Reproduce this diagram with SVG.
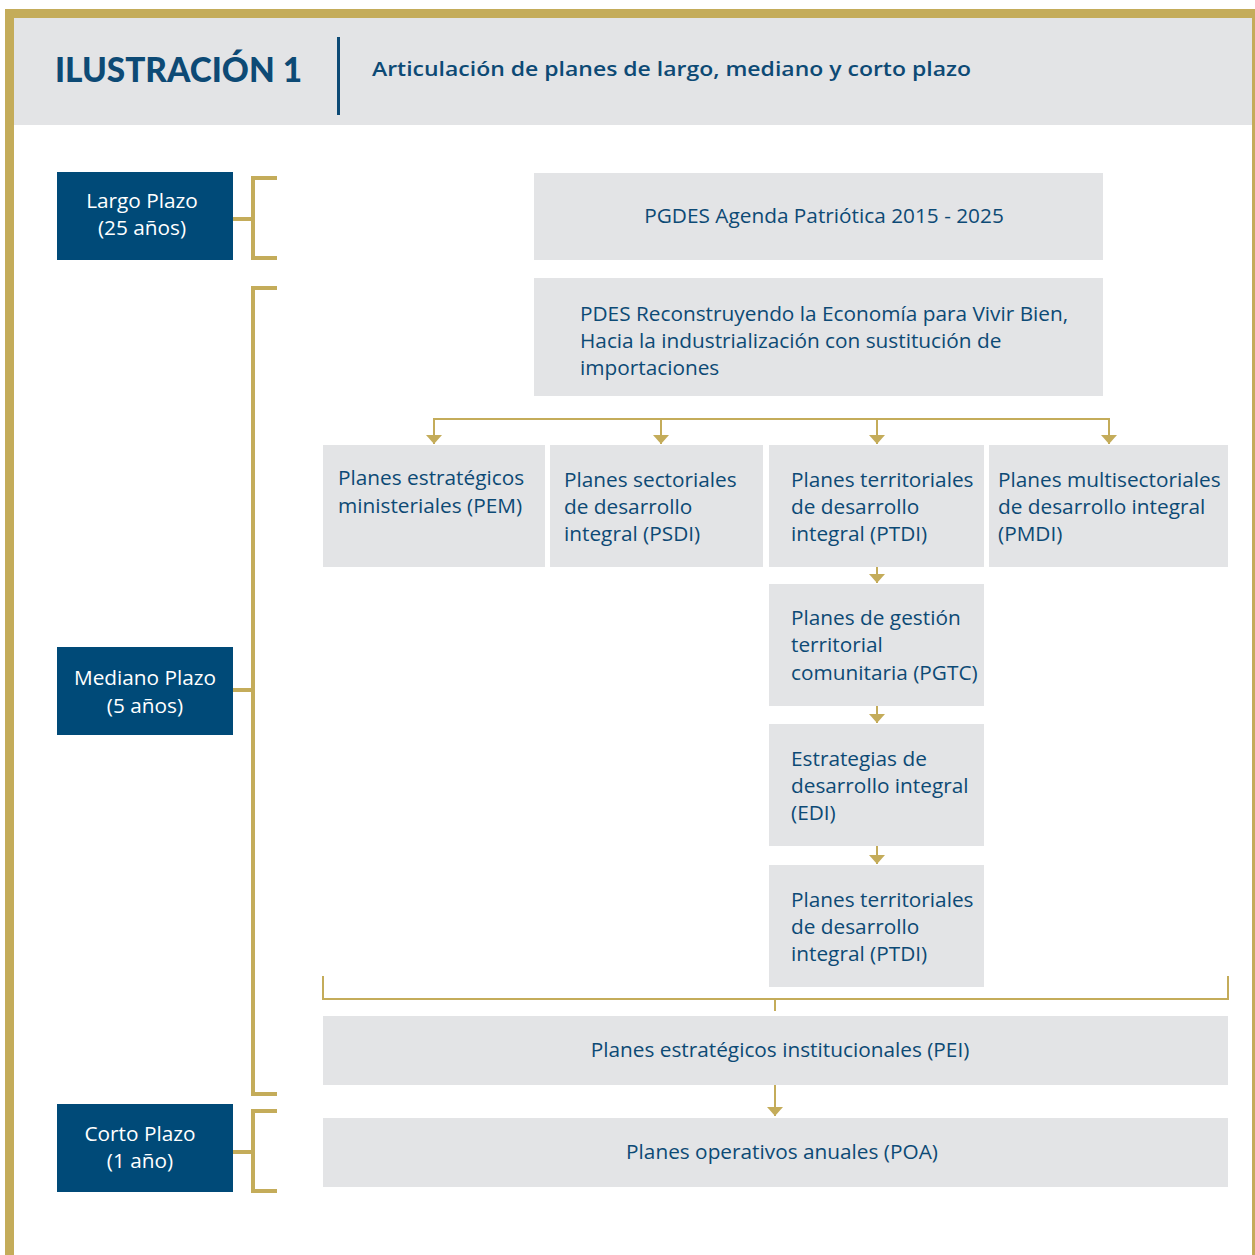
<svg xmlns="http://www.w3.org/2000/svg" width="1255" height="1255" viewBox="0 0 1255 1255">
<style>
.t{font-family:"Open Sans","Liberation Sans",sans-serif;fill:#0d4a75;font-size:20.8px}
.w{font-family:"Open Sans","Liberation Sans",sans-serif;fill:#ffffff;font-size:20.8px}
.g{fill:#e3e4e6}
.b{fill:#004a78}
.br{fill:none;stroke:#c4ac5a;stroke-width:4}
.cn{fill:none;stroke:#c4ac5a;stroke-width:2}
</style>
<defs>
<marker id="ah" markerWidth="9" markerHeight="16" refX="9" refY="8" orient="auto" markerUnits="userSpaceOnUse" viewBox="0 0 9 16">
<path d="M0,0 L9,8 L0,16 Z" fill="#c4ac5a"/>
</marker>
</defs>
<rect width="1255" height="1255" fill="#ffffff"/>
<!-- frame -->
<rect x="14" y="18" width="1238" height="107" fill="#e3e4e6"/>
<path d="M9.5,1255 V13.5 H1254" fill="none" stroke="#c4ac5a" stroke-width="9"/>
<rect x="1252" y="9" width="3" height="1246" fill="#c4ac5a"/>
<g id="header">
<text x="55" y="82" font-family="Lato,'Liberation Sans',sans-serif" font-weight="900" font-size="33.5" fill="#0d4a75" textLength="247" lengthAdjust="spacingAndGlyphs">ILUSTRACIÓN 1</text>
<rect x="337" y="37" width="3" height="78" fill="#0d4a75"/>
<text x="372" y="76" font-family="'Open Sans','Liberation Sans',sans-serif" font-weight="600" font-size="20.5" fill="#0d4a75" textLength="599" lengthAdjust="spacingAndGlyphs">Articulación de planes de largo, mediano y corto plazo</text>
</g>
<!-- connectors -->
<g id="connectors">
<path class="br" d="M233,219 H253 M277,178 H253 V258 H277"/>
<path class="br" d="M233,690 H253 M277,288 H253 V1094 H277"/>
<path class="br" d="M233,1152 H253 M277,1111 H253 V1191 H277"/>
<path class="cn" d="M434,419 H1109"/>
<path class="cn" d="M434,418 V444" marker-end="url(#ah)"/>
<path class="cn" d="M661,418 V444" marker-end="url(#ah)"/>
<path class="cn" d="M877,418 V444" marker-end="url(#ah)"/>
<path class="cn" d="M1109,418 V444" marker-end="url(#ah)"/>
<path class="cn" d="M877,567 V583" marker-end="url(#ah)"/>
<path class="cn" d="M877,706 V723" marker-end="url(#ah)"/>
<path class="cn" d="M877,846 V864" marker-end="url(#ah)"/>
<path class="cn" d="M323,976 V999 H1228 V976" stroke-width="2.5"/>
<path class="cn" d="M775,999 V1011" stroke-width="1.5"/>
<path class="cn" d="M775,1085 V1116" stroke-width="1.5" marker-end="url(#ah)"/>
</g>
<g id="largo"><rect class="b" x="57" y="172" width="176" height="88"/>
<text class="w" x="142" y="208" text-anchor="middle">Largo Plazo</text>
<text class="w" x="142" y="235" text-anchor="middle">(25 años)</text></g>
<g id="mediano"><rect class="b" x="57" y="647" width="176" height="88"/>
<text class="w" x="145" y="685" text-anchor="middle">Mediano Plazo</text>
<text class="w" x="145" y="713" text-anchor="middle">(5 años)</text></g>
<g id="corto"><rect class="b" x="57" y="1104" width="176" height="88"/>
<text class="w" x="140" y="1141" text-anchor="middle">Corto Plazo</text>
<text class="w" x="140" y="1168" text-anchor="middle">(1 año)</text></g>
<g id="pgdes"><rect class="g" x="534" y="173" width="569" height="87"/>
<text class="t" x="824" y="223" text-anchor="middle">PGDES Agenda Patriótica 2015 - 2025</text></g>
<g id="pdes"><rect class="g" x="534" y="278" width="569" height="118"/>
<text class="t" x="580" y="321">PDES Reconstruyendo la Economía para Vivir Bien,</text>
<text class="t" x="580" y="348">Hacia la industrialización con sustitución de</text>
<text class="t" x="580" y="375">importaciones</text></g>
<g id="pem"><rect class="g" x="323" y="445" width="222" height="122"/>
<text class="t" x="338" y="485">Planes estratégicos</text>
<text class="t" x="338" y="513">ministeriales (PEM)</text></g>
<g id="psdi"><rect class="g" x="550" y="445" width="213" height="122"/>
<text class="t" x="564" y="487">Planes sectoriales</text>
<text class="t" x="564" y="514">de desarrollo</text>
<text class="t" x="564" y="541">integral (PSDI)</text></g>
<g id="ptdi"><rect class="g" x="769" y="445" width="215" height="122"/>
<text class="t" x="791" y="487">Planes territoriales</text>
<text class="t" x="791" y="514">de desarrollo</text>
<text class="t" x="791" y="541">integral (PTDI)</text></g>
<g id="pmdi"><rect class="g" x="989" y="445" width="239" height="122"/>
<text class="t" x="998" y="487">Planes multisectoriales</text>
<text class="t" x="998" y="514">de desarrollo integral</text>
<text class="t" x="998" y="541">(PMDI)</text></g>
<g id="pgtc"><rect class="g" x="769" y="584" width="215" height="122"/>
<text class="t" x="791" y="625">Planes de gestión</text>
<text class="t" x="791" y="652">territorial</text>
<text class="t" x="791" y="680">comunitaria (PGTC)</text></g>
<g id="edi"><rect class="g" x="769" y="724" width="215" height="122"/>
<text class="t" x="791" y="766">Estrategias de</text>
<text class="t" x="791" y="793">desarrollo integral</text>
<text class="t" x="791" y="820">(EDI)</text></g>
<g id="ptdi2"><rect class="g" x="769" y="865" width="215" height="122"/>
<text class="t" x="791" y="907">Planes territoriales</text>
<text class="t" x="791" y="934">de desarrollo</text>
<text class="t" x="791" y="961">integral (PTDI)</text></g>
<g id="pei"><rect class="g" x="323" y="1016" width="905" height="69"/>
<text class="t" x="780" y="1057" text-anchor="middle">Planes estratégicos institucionales (PEI)</text></g>
<g id="poa"><rect class="g" x="323" y="1118" width="905" height="69"/>
<text class="t" x="782" y="1159" text-anchor="middle">Planes operativos anuales (POA)</text></g>
</svg>
